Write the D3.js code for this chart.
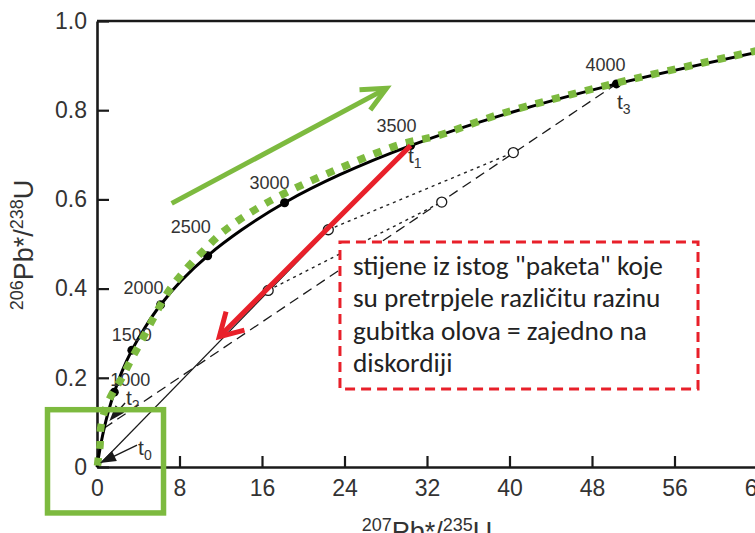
<!DOCTYPE html>
<html><head><meta charset="utf-8">
<script src="https://cdn.jsdelivr.net/npm/d3@7"></script>
<style>body{margin:0;background:#fff;} svg{display:block}</style>
</head><body><svg id="c" width="755" height="533"></svg>
<script>
// ---------------- data ----------------
const xTicks = [0, 8, 16, 24, 32, 40, 48, 56, 64];
const yTicks = [0, 0.2, 0.4, 0.6, 0.8, 1.0];

// Concordia curve (ages in Ma)
const concordiaAge = [0, 100, 250, 500, 750, 1000, 1250, 1500, 1750, 2000, 2250, 2500, 2750, 3000, 3250, 3500, 3750, 4000, 4250];
const concordia207 = [0, 0.103, 0.279, 0.636, 1.092, 1.677, 2.417, 3.381, 4.624, 6.168, 8.163, 10.73, 14.04, 18.19, 23.55, 30.41, 39.2, 50.37, 64.7];
const concordia206 = [0, 0.0156, 0.0395, 0.0807, 0.1235, 0.1678, 0.2138, 0.2620, 0.3118, 0.3638, 0.4178, 0.4736, 0.5318, 0.5926, 0.6553, 0.7206, 0.7884, 0.8590, 0.9334];
const labeledAges = [1000, 1500, 2000, 2500, 3000, 3500, 4000];

// Green dotted overlay (hand drawn)
const green207 = [0.05, 0.13, 0.29, 0.36, 0.78, 1.58, 2.4, 3.2, 4.1, 5.5, 6.88, 8.5, 11.05, 12.2, 14.84, 18.23, 23.55, 29.5, 32.9, 39.2, 50.37, 64.7];
const green206 = [0.003, 0.0195, 0.047, 0.087, 0.128, 0.169, 0.199, 0.236, 0.274, 0.335, 0.392, 0.44, 0.502, 0.527, 0.57, 0.614, 0.67, 0.724, 0.742, 0.792, 0.861, 0.937];

// Key points
const tNames = ["t0", "t1", "t2", "t3"];
const t207 = [0, 30.41, 0.68, 50.37];
const t206 = [0, 0.7206, 0.087, 0.859];

// Open circles (samples)
const sample207 = [16.6, 22.43, 33.43, 40.37];
const sample206 = [0.396, 0.532, 0.594, 0.705];

// Dotted lines joining samples (index pairs into samples)
const dottedFrom = [0, 1];
const dottedTo = [2, 3];

// Annotation arrows (data coords)
const greenArrow207 = [7.24, 28.07], greenArrow206 = [0.591, 0.849];
const redArrow207 = [30.41, 11.86], redArrow206 = [0.7206, 0.292];
const t0Arrow207 = [3.88, 0.29], t0Arrow206 = [0.0493, 0.009];
const t2Arrow207 = [2.72, 1.2], t2Arrow206 = [0.1435, 0.103];

// Label text
const tLabelText = ["t", "t", "t", "t"];
const tLabelSub = ["0", "1", "2", "3"];
const boxLines = ["stijene iz istog \"paketa\" koje", "su pretrpjele različitu razinu", "gubitka olova = zajedno na", "diskordiji"];

// ---------------- layout ----------------
const W = 755, H = 533;
const svg = d3.select("#c");
const x = d3.scaleLinear().domain([0, 64]).range([97, 757]);
const y = d3.scaleLinear().domain([0, 1]).range([467, 21]);
const GREEN = "#7dba3f", RED = "#e8202a", INK = "#1a1a1a";
const FONT = "'Liberation Sans', Arial, Helvetica, sans-serif";

// axes
const gx = svg.append("g").attr("transform", `translate(0,${y(0)})`)
  .call(d3.axisBottom(x).tickValues(xTicks).tickSize(-11).tickSizeOuter(0).tickPadding(13).tickFormat(d3.format("d")));
const gy = svg.append("g").attr("transform", `translate(${x(0)},0)`)
  .call(d3.axisLeft(y).tickValues(yTicks).tickSize(-12).tickSizeOuter(0).tickPadding(10)
    .tickFormat(d => d === 0 ? "0" : d3.format(".1f")(d)));
[gx, gy].forEach(g => {
  g.select(".domain").attr("stroke", INK).attr("stroke-width", 2.6);
  g.selectAll(".tick line").attr("stroke", INK).attr("stroke-width", 2.2);
  g.selectAll(".tick text").attr("font-family", FONT).attr("font-size", 23).attr("fill", "#333");
});
svg.append("line").attr("x1", x(0)).attr("x2", W).attr("y1", y(1)).attr("y2", y(1))
  .attr("stroke", INK).attr("stroke-width", 2.6);

// axis titles
function title(sel, sup1, main, sup2, tail) {
  sel.attr("font-family", FONT).attr("fill", "#333").attr("font-size", 27).attr("text-anchor", "middle");
  sel.append("tspan").attr("font-size", 18).attr("dy", -10).text(sup1);
  sel.append("tspan").attr("dy", 10).text(main);
  sel.append("tspan").attr("font-size", 18).attr("dy", -10).text(sup2);
  sel.append("tspan").attr("dy", 10).text(tail);
}
title(svg.append("text").attr("x", x(32)).attr("y", 541), "207", "Pb*/", "235", "U");
title(svg.append("text").attr("transform", `translate(33,245) rotate(-90)`), "206", "Pb*/", "238", "U");

// lines
const line = d3.line().x(d => x(d[0])).y(d => y(d[1]));
const smooth = d3.line().x(d => x(d[0])).y(d => y(d[1])).curve(d3.curveCatmullRom.alpha(0.5));
const tp = i => [t207[i], t206[i]];

// discordia t0 - t1 (solid thin)
svg.append("path").attr("d", line([tp(0), tp(1)])).attr("stroke", INK).attr("stroke-width", 1.2).attr("fill", "none");
// discordia t2 - t3 (dashed)
svg.append("path").attr("d", line([tp(2), tp(3)])).attr("stroke", INK).attr("stroke-width", 1.3)
  .attr("stroke-dasharray", "10,6").attr("fill", "none");
// dotted lines between samples
dottedFrom.forEach((a, k) => {
  const b = dottedTo[k];
  svg.append("path").attr("d", line([[sample207[a], sample206[a]], [sample207[b], sample206[b]]]))
    .attr("stroke", "#222").attr("stroke-width", 1.4).attr("stroke-dasharray", "3,4").attr("fill", "none");
});

// concordia
const conc = concordiaAge.map((a, i) => [concordia207[i], concordia206[i]]);
svg.append("path").attr("d", smooth(conc)).attr("stroke", "#000").attr("stroke-width", 3).attr("fill", "none");
svg.selectAll(".adot").data(labeledAges).join("circle")
  .attr("cx", a => x(concordia207[concordiaAge.indexOf(a)]))
  .attr("cy", a => y(concordia206[concordiaAge.indexOf(a)]))
  .attr("r", 4.5).attr("fill", "#000");

// open circles
svg.selectAll(".sdot").data(sample207).join("circle")
  .attr("cx", (d) => x(d)).attr("cy", (d, i) => y(sample206[i]))
  .attr("r", 5).attr("fill", "#fff").attr("stroke", INK).attr("stroke-width", 1.3);

// age labels
const ageOff = [[16, -6], [0, -9], [-17, -11], [-17, -23], [-15, -14], [-14, -14], [-11, -13]];
labeledAges.forEach((a, i) => {
  const j = concordiaAge.indexOf(a);
  svg.append("text").attr("x", x(concordia207[j]) + ageOff[i][0]).attr("y", y(concordia206[j]) + ageOff[i][1])
    .attr("text-anchor", "middle").attr("font-family", FONT).attr("font-size", 18).attr("fill", "#333").text(a);
});

// green dotted overlay
const gpts = green207.map((v, i) => [v, green206[i]]);
svg.append("path").attr("d", smooth(gpts)).attr("stroke", GREEN).attr("stroke-width", 7.5)
  .attr("stroke-dasharray", "8,9").attr("fill", "none");

// arrow helpers
function vHead(x0, y0, x1, y1, len, ang) {
  const a = Math.atan2(y0 - y1, x0 - x1);
  const r = ang * Math.PI / 180;
  return `M${x1 + len * Math.cos(a + r)},${y1 + len * Math.sin(a + r)}L${x1},${y1}L${x1 + len * Math.cos(a - r)},${y1 + len * Math.sin(a - r)}`;
}
function arrow(xs, ys, color, w, len, ang) {
  const x0 = x(xs[0]), y0 = y(ys[0]), x1 = x(xs[1]), y1 = y(ys[1]);
  svg.append("line").attr("x1", x0).attr("y1", y0).attr("x2", x1).attr("y2", y1)
    .attr("stroke", color).attr("stroke-width", w);
  svg.append("path").attr("d", vHead(x0, y0, x1, y1, len, ang)).attr("stroke", color)
    .attr("stroke-width", w).attr("fill", "none").attr("stroke-linejoin", "miter").attr("stroke-linecap", "butt");
}
arrow(redArrow207, redArrow206, RED, 5, 26, 30);
arrow(greenArrow207, greenArrow206, GREEN, 5, 27, 25);

function filledArrow(xs, ys) {
  const x0 = x(xs[0]), y0 = y(ys[0]), x1 = x(xs[1]), y1 = y(ys[1]);
  const a = Math.atan2(y0 - y1, x0 - x1), L = 17, r = 0.34;
  svg.append("line").attr("x1", x0).attr("y1", y0).attr("x2", x1 + L * 0.8 * Math.cos(a)).attr("y2", y1 + L * 0.8 * Math.sin(a))
    .attr("stroke", INK).attr("stroke-width", 1.4);
  svg.append("path").attr("d", `M${x1},${y1}L${x1 + L * Math.cos(a + r)},${y1 + L * Math.sin(a + r)}L${x1 + L * Math.cos(a - r)},${y1 + L * Math.sin(a - r)}Z`)
    .attr("fill", INK);
}
filledArrow(t0Arrow207, t0Arrow206);
filledArrow(t2Arrow207, t2Arrow206);

// t labels (data coords)
const tLab207 = [3.98, 30.15, 2.81, 50.42];
const tLab206 = [0.027, 0.681, 0.138, 0.803];
tNames.forEach((n, i) => {
  const t = svg.append("text").attr("x", x(tLab207[i])).attr("y", y(tLab206[i]))
    .attr("font-family", FONT).attr("font-size", 21).attr("fill", "#333");
  t.append("tspan").text(tLabelText[i]);
  t.append("tspan").attr("font-size", 14).attr("dy", 5).text(tLabelSub[i]);
});

// green box
const gb207 = [-4.8, 6.45], gb206 = [0.1285, -0.103];
svg.append("rect").attr("x", x(gb207[0])).attr("y", y(gb206[0]))
  .attr("width", x(gb207[1]) - x(gb207[0])).attr("height", y(gb206[1]) - y(gb206[0]))
  .attr("fill", "none").attr("stroke", GREEN).attr("stroke-width", 5.5);

// red dashed text box
const rb207 = [23.56, 58.28], rb206 = [0.5045, 0.1749];
const bx = x(rb207[0]), by = y(rb206[0]);
svg.append("rect").attr("x", bx).attr("y", by)
  .attr("width", x(rb207[1]) - bx).attr("height", y(rb206[1]) - by)
  .attr("fill", "#fff").attr("stroke", RED).attr("stroke-width", 3).attr("stroke-dasharray", "10,6");
const tx = svg.append("text").attr("font-family", "Carlito, Calibri, Lato, 'Open Sans', sans-serif").attr("fill", "#222").attr("font-size", 22);
boxLines.forEach((s, i) => {
  tx.append("tspan").attr("x", bx + 13).attr("y", by + 33 + i * 32.3).text(s);
});
// fit first line width to ~310px
const first = tx.select("tspan").node();
const w0 = first.getComputedTextLength();
if (w0 > 0) tx.attr("font-size", 22 * 310 / w0);
</script>
</body></html>
